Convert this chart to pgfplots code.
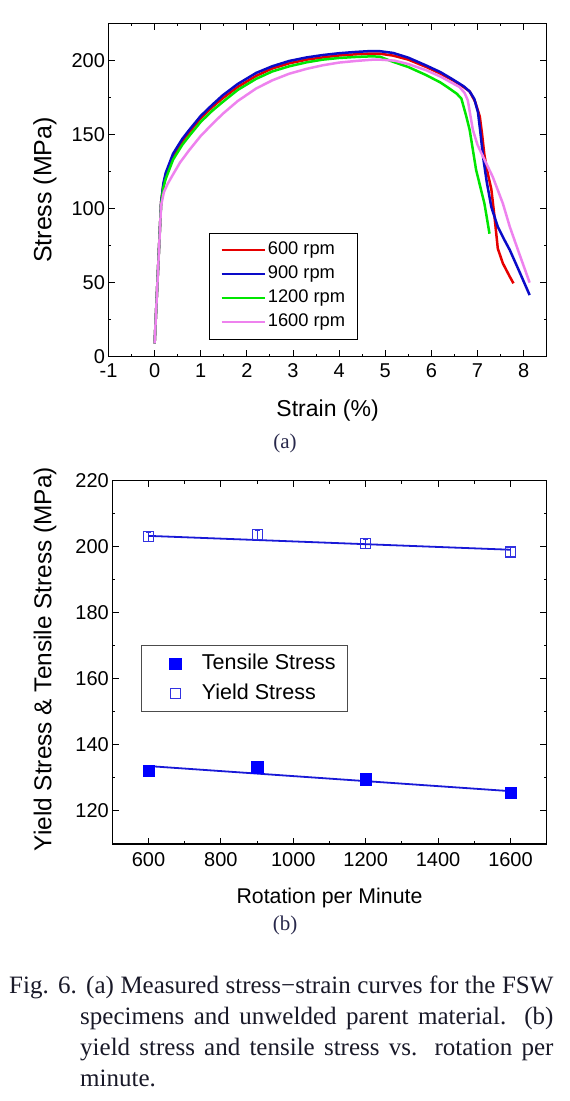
\documentclass[border=0pt]{standalone}
\usepackage{fontspec}
\setmainfont{Liberation Serif}
\newfontfamily\arial{Liberation Sans}
\usepackage{pgfplots}
\pgfplotsset{compat=1.18}
\definecolor{cred}{RGB}{230,0,0}
\definecolor{cblue}{RGB}{10,10,200}
\definecolor{cgreen}{RGB}{0,230,0}
\definecolor{cpink}{RGB}{238,130,238}
\definecolor{mblue}{RGB}{0,0,255}
\definecolor{oblue}{RGB}{50,50,225}
\definecolor{lblue}{RGB}{25,25,215}
\definecolor{capcol}{RGB}{25,25,40}
\definecolor{subcol}{RGB}{40,40,75}
\pgfplotsset{
  myaxis/.style={
    scale only axis,
    axis line style={line width=1.2pt},
    every tick/.style={black, line width=1pt},
    tick align=inside,
    xtick pos=both, ytick pos=both,
    major tick length=6.5pt, minor tick length=3pt,
    /pgf/number format/assume math mode=true,
    /pgf/number format/1000 sep={},
    tick label style={font=\arial\fontsize{20}{20}\selectfont},
  }
}
\begin{document}
\begin{tikzpicture}
\useasboundingbox (0pt,0pt) rectangle (570pt,-1101pt);
% ---------------- (a) ----------------
\begin{axis}[myaxis,
  at={(108.5pt,-356.7pt)}, anchor=south west,
  width=438.2pt, height=333.4pt,
  xmin=-1, xmax=8.5, ymin=0, ymax=225,
  xtick={-1,0,...,8}, minor x tick num=1,
  ytick={0,50,...,200}, minor y tick num=1,
  xticklabel style={yshift=-3pt},
  xlabel={Strain (\%)}, ylabel={Stress (MPa)},
  xlabel style={at={(axis description cs:0.5,-0.16)}, anchor=center, font=\arial\fontsize{23}{23}\selectfont},
  ylabel style={at={(axis description cs:-0.145,0.5)}, anchor=center, font=\arial\fontsize{25}{25}\selectfont},
  legend style={at={(0.230,0.372)}, anchor=north west, draw=black, line width=0.8pt,
    inner xsep=10.7pt, inner ysep=6.5pt, row sep=3pt,
    nodes={inner sep=2pt, text height=13pt, text depth=4pt},
    font=\arial\fontsize{18.3}{18.3}\selectfont},
  legend cell align=left,
  legend image code/.code={\draw[#1, line width=2.5pt] (0pt,0pt) -- (43pt,0pt);},
  every axis plot/.append style={line width=2.5pt, line join=round},
]
\addplot[cred] coordinates {(0,9) (0.14,104) (0.19,116) (0.24,122.5) (0.4,135.5) (0.6,145.5) (0.75,151.5) (1.0,161) (1.25,168.5) (1.48,174.5) (1.8,182) (2.2,189.5) (2.55,194.5) (2.92,198) (3.3,200.5) (3.65,202) (4.0,203.3) (4.37,204.1) (4.7,204.6) (4.88,204.5) (5.17,203.2) (5.5,200.5) (5.89,195.5) (6.2,191) (6.47,186.5) (6.7,182) (6.83,179) (6.95,172) (7.05,162) (7.1,150) (7.15,136) (7.22,124) (7.30,113) (7.37,94) (7.44,73) (7.55,63) (7.70,54) (7.78,49.5)};
\addlegendentry{600 rpm}
\addplot[cblue] coordinates {(0,9) (0.14,104) (0.19,117) (0.24,124) (0.4,137) (0.6,147) (0.75,153) (1.0,162.5) (1.25,170) (1.48,176.5) (1.8,184) (2.2,191.5) (2.55,196) (2.92,199.6) (3.3,202) (3.65,203.6) (4.0,204.8) (4.37,205.7) (4.7,206.3) (4.88,206.2) (5.17,205) (5.5,201.8) (5.89,196.5) (6.2,192) (6.47,187) (6.7,182.5) (6.83,179) (6.93,174) (7.01,165) (7.06,152) (7.12,135) (7.2,118) (7.30,101) (7.44,87.7) (7.58,79) (7.70,72) (7.9,58) (8.13,41.6)};
\addlegendentry{900 rpm}
\addplot[cgreen] coordinates {(0,9) (0.14,103) (0.19,114) (0.24,120) (0.4,133) (0.6,143) (0.75,149) (1.0,158.5) (1.25,166) (1.48,172) (1.8,180) (2.2,187.5) (2.55,192.5) (2.92,196) (3.3,198.7) (3.65,200.5) (4.0,201.6) (4.37,202.3) (4.7,202.7) (4.88,202.5) (5.17,199) (5.5,195.5) (5.89,190) (6.2,185) (6.39,181) (6.55,177.5) (6.65,174.2) (6.75,163) (6.83,153) (6.97,126) (7.15,103.4) (7.26,83)};
\addlegendentry{1200 rpm}
\addplot[cpink] coordinates {(0,9) (0.14,102) (0.2,111) (0.28,116.5) (0.39,122.5) (0.55,131) (0.75,139.4) (1.0,149) (1.25,157) (1.48,164) (1.8,172.5) (2.2,181) (2.55,186.5) (2.92,191) (3.3,194.3) (3.65,196.7) (4.0,198.5) (4.37,199.6) (4.7,200.4) (4.88,200.5) (5.2,199.8) (5.5,197.5) (5.89,193.3) (6.2,189) (6.61,182) (6.72,178) (6.79,173) (6.85,162) (6.90,153) (7.0,143) (7.12,135) (7.33,121.4) (7.55,103.4) (7.70,87.7) (7.9,70) (8.13,50)};
\addlegendentry{1600 rpm}
\end{axis}
\node[font=\fontsize{21}{21}\selectfont, text=subcol] at (285pt,-443.3pt) {(a)};
% ---------------- (b) ----------------
\begin{axis}[myaxis,
  at={(112.3pt,-844pt)}, anchor=south west,
  width=434.4pt, height=363.3pt,
  xmin=500, xmax=1700, ymin=110, ymax=220,
  xtick={600,800,...,1600}, minor x tick num=1,
  ytick={120,140,...,220}, minor y tick num=1,
  xticklabel style={yshift=-5pt},
  xlabel={Rotation per Minute}, ylabel={Yield Stress \& Tensile Stress (MPa)},
  xlabel style={at={(axis description cs:0.5,-0.1495)}, anchor=center, font=\arial\fontsize{21.3}{21.3}\selectfont},
  ylabel style={at={(axis description cs:-0.155,0.509)}, anchor=center, font=\arial\fontsize{24.4}{24.4}\selectfont},
  legend style={at={(0.0654,0.547)}, anchor=north west, draw=black!70, line width=0.8pt,
    inner xsep=10pt, inner ysep=6pt, row sep=6pt,
    nodes={inner sep=2pt, text height=15.5pt, text depth=4.5pt},
    font=\arial\fontsize{21.5}{21.5}\selectfont},
  legend cell align=left,
  legend image code/.code={\path (0pt,0pt) (48pt,0pt); \draw[mark repeat=1,#1] plot coordinates {(24pt,0pt)};},
]
\addplot[only marks, mark=square*, mark size=5.7pt, color=mblue] coordinates {(600,132.2) (900,133.3) (1200,129.6) (1600,125.6)};
\addlegendentry{Tensile Stress}
\addplot[only marks, mark=square, mark size=5pt, mark options={line width=1.2pt}, color=oblue,
  error bars/.cd, y dir=both, y explicit,
  error bar style={line width=0.8pt}, error mark options={rotate=90, mark size=2.5pt, line width=0.8pt}]
  coordinates {(600,203.0) +- (0,1.3) (900,203.6) +- (0,1.5) (1200,200.9) +- (0,1.3) (1600,198.4) +- (0,1.3)};
\addlegendentry{Yield Stress}
\addplot[lblue, line width=1.8pt, forget plot] coordinates {(600,133.6) (1600,126.0)};
\addplot[lblue, line width=1.8pt, forget plot] coordinates {(600,203.3) (1600,199.1)};
\end{axis}
\node[font=\fontsize{21}{21}\selectfont, text=subcol] at (285pt,-925pt) {(b)};
% ---------------- caption ----------------
\begin{scope}[every node/.style={inner sep=0pt, font=\fontsize{25}{25}\selectfont, text=capcol}]
\node[anchor=base west] at (9pt,-993.3pt) {\makebox[544.3pt][s]{Fig. 6. (a) Measured stress−strain curves for the FSW}};
\node[anchor=base west] at (80pt,-1024.3pt) {\makebox[473.3pt][s]{specimens and unwelded parent material. (b)}};
\node[anchor=base west] at (80pt,-1055.3pt) {\makebox[473.3pt][s]{yield stress and tensile stress vs. rotation per}};
\node[anchor=base west] at (80pt,-1086.3pt) {minute.};
\end{scope}
\end{tikzpicture}
\end{document}
